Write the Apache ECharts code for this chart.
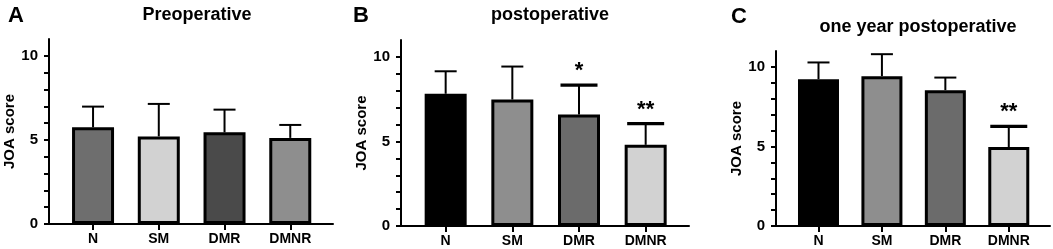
<!DOCTYPE html>
<html>
<head>
<meta charset="utf-8">
<script src="https://cdn.jsdelivr.net/npm/echarts@6/dist/echarts.min.js"></script>
<style>
  html, body { margin: 0; padding: 0; background: #fff; }
  #main { width: 1053px; height: 249px; }
</style>
</head>
<body>
<div id="main"></div>
<script>
// data
var categories = ['N', 'SM', 'DMR', 'DMNR'];
var yLabels = [0, 5, 10];

var preMean = [5.75, 5.21, 5.45, 5.12];
var preErr = [6.98, 7.14, 6.80, 5.89];
var preSig = ['', '', '', ''];

var postMean = [7.82, 7.48, 6.59, 4.80];
var postErr = [9.15, 9.43, 8.33, 6.05];
var postSig = ['', '', '*', '**'];

var yearMean = [9.23, 9.42, 8.54, 4.96];
var yearErr = [10.28, 10.80, 9.33, 6.26];
var yearSig = ['', '', '', '**'];

var FONT = 'Liberation Sans, Arial, sans-serif';

// panel layout / colours
var panels = [
  { letter: 'A', title: 'Preoperative', mean: preMean, err: preErr, sig: preSig,
    colors: ['#6e6e6e', '#d2d2d2', '#4a4a4a', '#8e8e8e'],
    grid: { left: 49, top: 39, width: 284, height: 185 },
    titleX: 192, titleY: 1, letterX: 3, letterY: 0, barW: 42 },
  { letter: 'B', title: 'postoperative', mean: postMean, err: postErr, sig: postSig,
    colors: ['#000000', '#8e8e8e', '#6b6b6b', '#d2d2d2'],
    grid: { left: 401, top: 40, width: 288, height: 186 },
    titleX: 545, titleY: 1, letterX: 348, letterY: 0, barW: 42 },
  { letter: 'C', title: 'one year postoperative', mean: yearMean, err: yearErr, sig: yearSig,
    colors: ['#000000', '#8e8e8e', '#6b6b6b', '#d2d2d2'],
    grid: { left: 776, top: 51, width: 274, height: 175 },
    titleX: 913, titleY: 13, letterX: 726, letterY: 1, barW: 41 }
];

var option = {
  animation: false,
  backgroundColor: '#fff',
  textStyle: { fontFamily: FONT },
  title: [],
  grid: [],
  xAxis: [],
  yAxis: [],
  series: []
};

panels.forEach(function (p, k) {
  option.title.push({
    text: p.title, left: p.titleX, top: p.titleY, textAlign: 'center',
    textStyle: { fontFamily: FONT, fontSize: 18, fontWeight: 'bold', color: '#000' }
  });
  option.title.push({
    text: p.letter, left: p.letterX, top: p.letterY,
    textStyle: { fontFamily: FONT, fontSize: 22, fontWeight: 'bold', color: '#000' }
  });
  option.grid.push(p.grid);
  option.xAxis.push({
    type: 'value', gridIndex: k, min: -0.67, max: 3.65,
    axisLine: { show: true, onZero: false, lineStyle: { color: '#000', width: 2 } },
    axisTick: { show: true, customValues: [0, 1, 2, 3], length: 6, lineStyle: { color: '#000', width: 2 } },
    axisLabel: {
      customValues: [0, 1, 2, 3], margin: 8,
      formatter: function (v) { return categories[Math.round(v)] || ''; },
      fontFamily: FONT, fontSize: 14, fontWeight: 'bold', color: '#000'
    },
    splitLine: { show: false }
  });
  option.yAxis.push({
    type: 'value', gridIndex: k, min: 0, max: 11,
    name: 'JOA score', nameLocation: 'middle', nameGap: 29,
    nameTextStyle: { fontFamily: FONT, fontSize: 15, fontWeight: 'bold', color: '#000' },
    axisLine: { show: true, onZero: false, lineStyle: { color: '#000', width: 2 } },
    axisTick: { show: true, customValues: [0, 1, 2, 3, 4, 5, 6, 7, 8, 9, 10], length: 5,
      lineStyle: { color: '#000', width: 2 } },
    axisLabel: { customValues: yLabels, margin: 11,
      fontFamily: FONT, fontSize: 15, fontWeight: 'bold', color: '#000' },
    splitLine: { show: false }
  });

  option.series.push({
    type: 'bar', xAxisIndex: k, yAxisIndex: k, barWidth: p.barW, z: 2,
    data: p.mean.map(function (v, i) {
      return { value: [i, v], itemStyle: { color: p.colors[i], borderColor: '#000', borderWidth: 3 } };
    })
  });

  // upper error bars + significance stars
  option.series.push({
    type: 'custom', xAxisIndex: k, yAxisIndex: k, z: 3,
    data: p.err.map(function (e, i) { return [i, p.mean[i], e]; }),
    renderItem: function (params, api) {
      var i = api.value(0);
      var base = api.coord([i, api.value(1)]);
      var top = api.coord([i, api.value(2)]);
      var star = p.sig[i];
      var capW = star ? 37 : 22;
      var capLw = star ? 3.2 : 2;
      var kids = [
        { type: 'line', shape: { x1: base[0], y1: base[1], x2: top[0], y2: top[1] },
          style: { stroke: '#000', lineWidth: 2 } },
        { type: 'line', shape: { x1: top[0] - capW / 2, y1: top[1], x2: top[0] + capW / 2, y2: top[1] },
          style: { stroke: '#000', lineWidth: capLw } }
      ];
      if (star) {
        kids.push({ type: 'text', x: top[0], y: top[1] - 3,
          style: { text: star, fontFamily: FONT, fontSize: 22, fontWeight: 'bold', fill: '#000',
            align: 'center', verticalAlign: 'bottom' } });
      }
      return { type: 'group', children: kids };
    }
  });
});

var chart = echarts.init(document.getElementById('main'), null, { renderer: 'canvas' });
chart.setOption(option);
</script>
</body>
</html>
